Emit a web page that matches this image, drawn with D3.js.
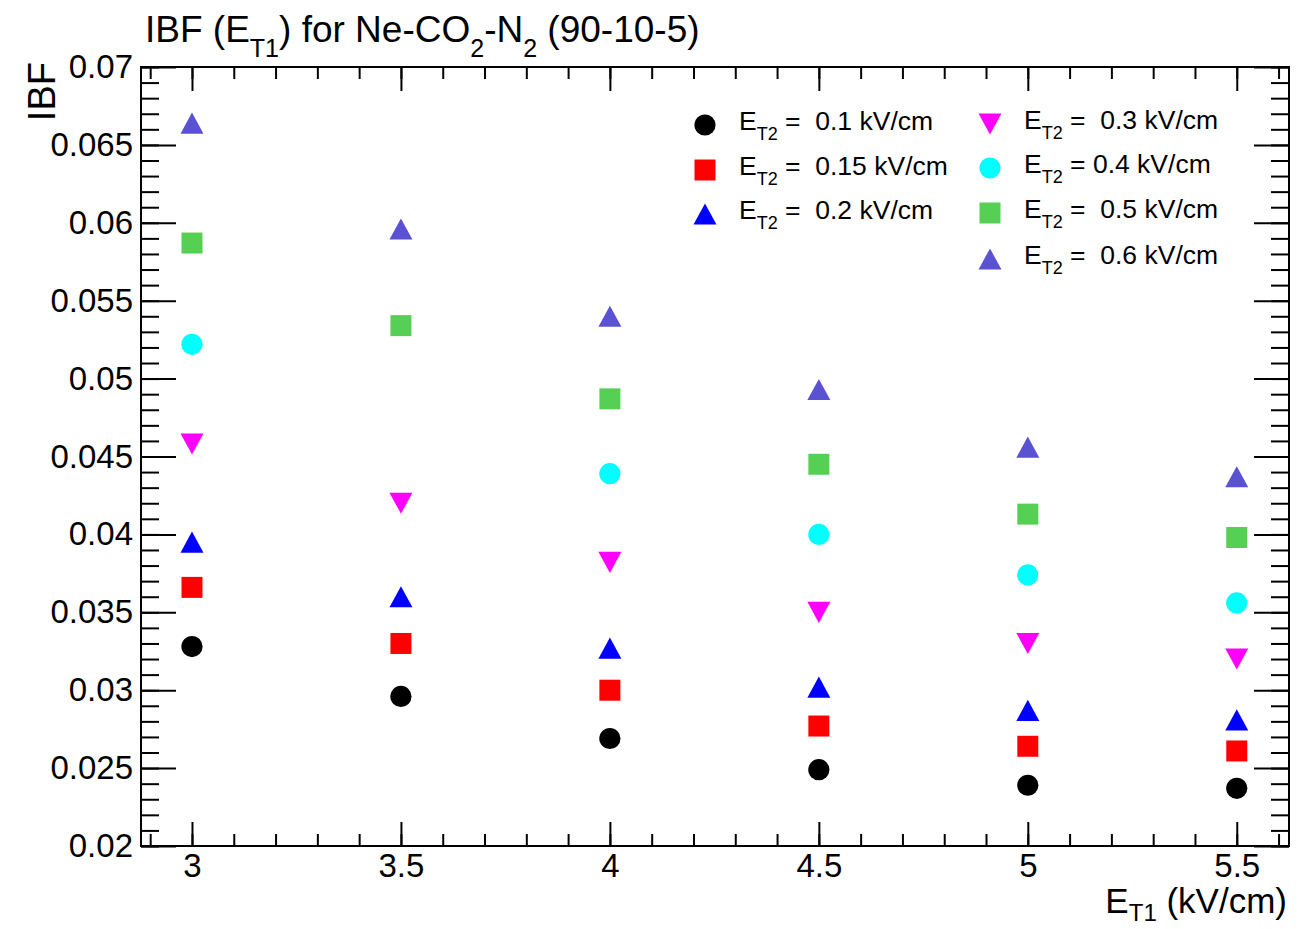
<!DOCTYPE html>
<html>
<head>
<meta charset="utf-8">
<script src="https://cdn.jsdelivr.net/npm/d3@7"></script>
<style>
  html, body { margin: 0; padding: 0; background: #fff; }
  svg { display: block; }
  text { font-family: "Liberation Sans", Arial, Helvetica, sans-serif; fill: #000; }
</style>
</head>
<body>
<svg id="chart" width="1302" height="929"></svg>
<script>
// ---- data ----
const xValues = [3, 3.5, 4, 4.5, 5, 5.5];
const et2_01  = [0.0328, 0.0296, 0.0269, 0.0249, 0.0239, 0.0237];
const et2_015 = [0.0366, 0.0330, 0.0300, 0.0277, 0.0264, 0.0261];
const et2_02  = [0.0395, 0.0360, 0.0327, 0.0302, 0.0287, 0.0281];
const et2_03  = [0.0458, 0.0420, 0.0382, 0.0350, 0.0330, 0.0320];
const et2_04  = [0.0522, null,   0.0439, 0.0400, 0.0374, 0.0356];
const et2_05  = [0.0587, 0.0534, 0.0487, 0.0445, 0.0413, 0.0398];
const et2_06  = [0.0664, 0.0596, 0.0540, 0.0493, 0.0456, 0.0437];
const seriesLabels = ["0.1", "0.15", "0.2", "0.3", "0.4", "0.5", "0.6"];
const xTickValues = [3, 3.5, 4, 4.5, 5, 5.5];
const xTickLabels = ["3", "3.5", "4", "4.5", "5", "5.5"];
const yTickValues = [0.02, 0.025, 0.03, 0.035, 0.04, 0.045, 0.05, 0.055, 0.06, 0.065, 0.07];
const yTickLabels = ["0.02", "0.025", "0.03", "0.035", "0.04", "0.045", "0.05", "0.055", "0.06", "0.065", "0.07"];

// ---- styles ----
const seriesData = [et2_01, et2_015, et2_02, et2_03, et2_04, et2_05, et2_06];
const colors = ["#000000", "#ff0000", "#0000ff", "#ff00ff", "#00ffff", "#55d055", "#5a52d2"];
const shapes = ["circle", "square", "triUp", "triDown", "circle", "square", "triUp"];
const spacesAfterEq = ["  ", "  ", "  ", "  ", " ", "  ", "  "];

const FONT = '"Liberation Sans", Arial, Helvetica, sans-serif';
const svg = d3.select("#chart");
const L = 141, R = 1289, T = 67, B = 846;

const x = d3.scaleLinear().domain([2.878, 5.625]).range([L, R]);
const y = d3.scaleLinear().domain([0.02, 0.07]).range([B, T]);

// custom marker shapes (bbox-centered like ROOT)
const symTypes = {
  circle: { draw(c, s) { const r = Math.sqrt(s / Math.PI); c.moveTo(r, 0); c.arc(0, 0, r, 0, 2 * Math.PI); } },
  square: { draw(c, s) { const h = Math.sqrt(s) / 2; c.rect(-h, -h, 2 * h, 2 * h); } },
  triUp:  { draw(c, s) { const w = Math.sqrt(s) / 2, h = w * 0.92; c.moveTo(0, -h); c.lineTo(w, h); c.lineTo(-w, h); c.closePath(); } },
  triDown:{ draw(c, s) { const w = Math.sqrt(s) / 2, h = w * 0.92; c.moveTo(0, h); c.lineTo(w, -h); c.lineTo(-w, -h); c.closePath(); } }
};
const symSize = { circle: Math.PI * 10.6 * 10.6, square: 21 * 21, triUp: 23 * 23, triDown: 23 * 23 };
function symPath(shape) { return d3.symbol().type(symTypes[shape]).size(symSize[shape])(); }

// ---- axes ----
const xMinor = d3.range(29, 57).map(v => v / 10);
const yMinor = d3.range(20, 71).map(v => v / 1000);

function styleAxis(g) {
  g.select(".domain").remove();
  g.selectAll(".tick line").attr("stroke", "#000").attr("stroke-width", 2);
  g.selectAll("text").attr("font-family", FONT).attr("fill", "#000");
}

// bottom
svg.append("g").attr("transform", `translate(0,${B})`)
  .call(d3.axisBottom(x).tickValues(xMinor).tickSize(-12).tickFormat("")).call(styleAxis);
svg.append("g").attr("transform", `translate(0,${B})`)
  .call(d3.axisBottom(x).tickValues(xTickValues).tickSize(-24).tickPadding(8)
    .tickFormat((d, i) => xTickLabels[i]))
  .call(styleAxis)
  .selectAll("text").attr("font-size", 33);
// top
svg.append("g").attr("transform", `translate(0,${T})`)
  .call(d3.axisTop(x).tickValues(xMinor).tickSize(-12).tickFormat("")).call(styleAxis);
svg.append("g").attr("transform", `translate(0,${T})`)
  .call(d3.axisTop(x).tickValues(xTickValues).tickSize(-24).tickFormat("")).call(styleAxis);
// left
svg.append("g").attr("transform", `translate(${L},0)`)
  .call(d3.axisLeft(y).tickValues(yMinor).tickSize(-18).tickFormat("")).call(styleAxis);
svg.append("g").attr("transform", `translate(${L},0)`)
  .call(d3.axisLeft(y).tickValues(yTickValues).tickSize(-35).tickPadding(8)
    .tickFormat((d, i) => yTickLabels[i]))
  .call(styleAxis)
  .selectAll("text").attr("font-size", 33);
// right
svg.append("g").attr("transform", `translate(${R},0)`)
  .call(d3.axisRight(y).tickValues(yMinor).tickSize(-18).tickFormat("")).call(styleAxis);
svg.append("g").attr("transform", `translate(${R},0)`)
  .call(d3.axisRight(y).tickValues(yTickValues).tickSize(-35).tickFormat("")).call(styleAxis);

// frame
svg.append("rect").attr("x", L).attr("y", T).attr("width", R - L).attr("height", B - T)
  .attr("fill", "none").attr("stroke", "#000").attr("stroke-width", 2);

// ---- text helper with subscripts ----
function richText(parent, parts, size, subSize, subDrop) {
  const t = parent.append("text").attr("font-size", size).style("white-space", "pre");
  parts.forEach(p => {
    if (p.sub) {
      t.append("tspan").attr("font-size", subSize).attr("dy", subDrop).text(p.t);
    } else {
      const ts = t.append("tspan").text(p.t);
      if (p.after) ts.attr("dy", -subDrop);
    }
  });
  return t;
}

// title
richText(svg.append("g").attr("transform", "translate(145,42)"),
  [{t: "IBF (E"}, {t: "T1", sub: true}, {t: ") for Ne-CO", after: true}, {t: "2", sub: true},
   {t: "-N", after: true}, {t: "2", sub: true}, {t: " (90-10-5)", after: true}],
  37, 25, 15);

// x axis title
richText(svg.append("g").attr("transform", "translate(1287,913)"),
  [{t: "E"}, {t: "T1", sub: true}, {t: " (kV/cm)", after: true}], 35, 24, 8)
  .attr("text-anchor", "end");

// y axis title
svg.append("text").attr("transform", "translate(55,62) rotate(-90)")
  .attr("text-anchor", "end").attr("font-size", 38).text("IBF");

// ---- markers ----
seriesData.forEach((vals, si) => {
  const pts = xValues.map((xv, i) => ({ x: xv, v: vals[i] })).filter(d => d.v !== null);
  svg.append("g").selectAll("path").data(pts).join("path")
    .attr("transform", d => `translate(${x(d.x)},${y(d.v)})`)
    .attr("d", symPath(shapes[si]))
    .attr("fill", colors[si]);
});

// ---- legend ----
const legendPos = [
  [705, 125], [705, 170], [705, 214],
  [990, 124], [990, 168], [990, 213], [990, 259]
];
seriesLabels.forEach((lab, si) => {
  const [mx, my] = legendPos[si];
  svg.append("path").attr("transform", `translate(${mx},${my})`)
    .attr("d", symPath(shapes[si])).attr("fill", colors[si]);
  richText(svg.append("g").attr("transform", `translate(${mx + 34},${my + 5})`),
    [{t: "E"}, {t: "T2", sub: true}, {t: " =" + spacesAfterEq[si] + lab + " kV/cm", after: true}],
    26.5, 18, 10);
});
</script>
</body>
</html>
